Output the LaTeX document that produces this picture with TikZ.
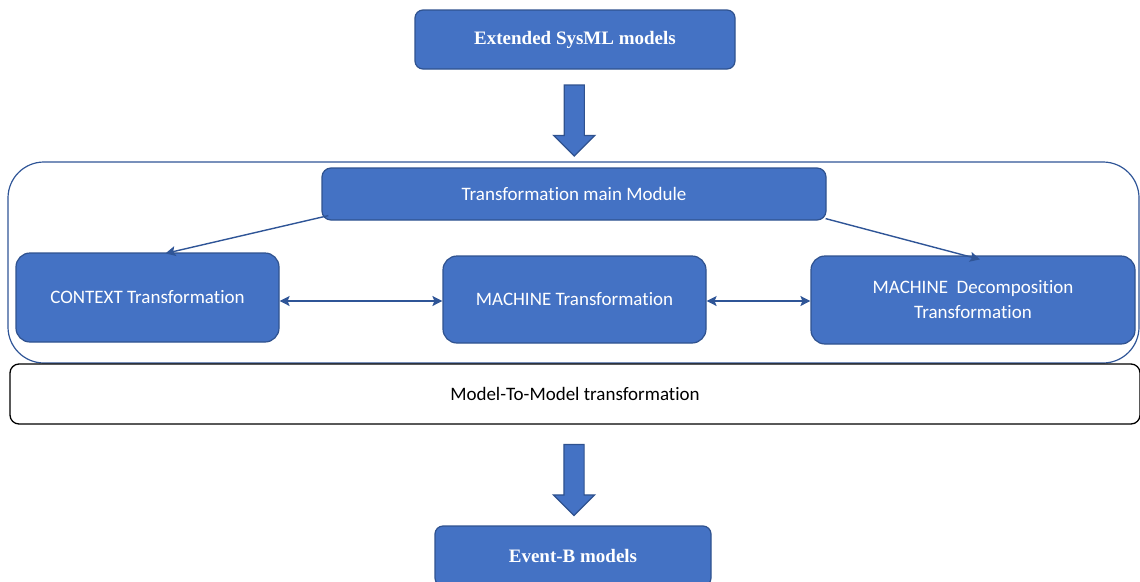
\documentclass[tikz,border=0pt]{standalone}
\usepackage{fontspec}
\setmainfont{Carlito}[Ligatures=NoCommon]
\newfontfamily\tnr{Liberation Serif}
\usetikzlibrary{arrows.meta,positioning,calc,shapes.arrows}
\definecolor{boxfill}{RGB}{68,114,196}
\definecolor{boxline}{RGB}{47,82,143}
\definecolor{linkblue}{RGB}{47,85,151}
\tikzset{
  tbox/.style={draw=boxline, line width=1.2pt, fill=boxfill, rounded corners=14pt,
    text=white, align=center, inner sep=0pt, font=\fontsize{19}{25}\selectfont},
  mbox/.style={tbox, rounded corners=8pt, font=\tnr\bfseries\fontsize{19}{23}\selectfont},
  frame/.style={draw=linkblue, line width=1.2pt, rounded corners=36pt, inner sep=0pt},
  layer/.style={draw=black, line width=1.3pt, fill=white, rounded corners=9pt,
    inner sep=0pt, font=\fontsize{19}{23}\selectfont},
  link/.style={draw=linkblue, line width=1.4pt, -{Stealth[length=10pt,width=10pt,inset=2pt]}},
  dlink/.style={link, {Stealth[length=10pt,width=10pt,inset=2pt]}-{Stealth[length=10pt,width=10pt,inset=2pt]}},
  bigarrow/.style={single arrow, shape border rotate=270, draw=boxline, line width=1.2pt,
    fill=boxfill, minimum height=71pt, minimum width=40pt, single arrow head extend=10.5pt,
    single arrow head indent=0pt, inner sep=9.5pt}
}
\begin{document}
\begin{tikzpicture}[x=1pt, y=-1pt]
  \useasboundingbox (0,0) rectangle (1140,581);
  \clip (0,0) rectangle (1140,581);
  % input / output models
  \node[mbox, minimum width=320pt, minimum height=59pt] (sysml) at (575,39.5) {Extended SysML models};
  \node[mbox, minimum width=276pt, minimum height=60pt] (eventb) at (573,556) {Event-B models};
  % transformation layer
  \node[frame, minimum width=1131pt, minimum height=201pt] (module) at (573.5,262.5) {};
  \node[layer, minimum width=1130pt, minimum height=60pt] (m2m) at (575,394) {Model-To-Model transformation};
  \node[tbox, rounded corners=9pt, minimum width=504pt, minimum height=52pt] (main) at (574,194) {Transformation main Module};
  \node[tbox, minimum width=263pt, minimum height=89pt] (ctx) at (147.5,297.5) {CONTEXT Transformation};
  \node[tbox, minimum width=263pt, minimum height=87pt] (mch) at (574.5,299.5) {MACHINE Transformation};
  \node[tbox, minimum width=324pt, minimum height=88pt] (dec) at (973,300) {MACHINE~ Decomposition\\Transformation};
  % block arrows
  \node[bigarrow] (in) at ($(sysml.south)!0.5!(module.north)$) {};
  \node[bigarrow] (out) at ($(m2m.south)!0.5!(eventb.north)$) {};
  % links
  \draw[link] ([xshift=7pt,yshift=5pt]main.south west) -- ([xshift=18pt,yshift=-1pt]ctx.north);
  \draw[link] ([xshift=-1pt,yshift=2pt]main.south east) -- ([xshift=7pt,yshift=-4pt]dec.north);
  \draw[dlink] (ctx.east |- 0,301) -- (mch.west |- 0,301);
  \draw[dlink] (mch.east |- 0,301) -- (dec.west |- 0,301);
\end{tikzpicture}
\end{document}
